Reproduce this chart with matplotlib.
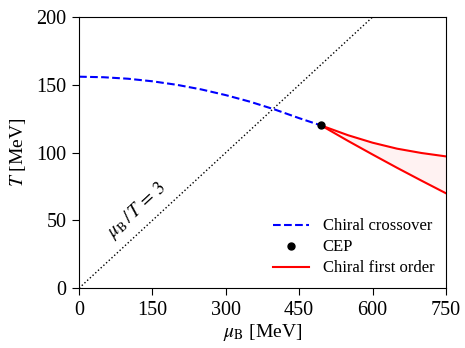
import numpy as np
import matplotlib
matplotlib.use("Agg")
import matplotlib.pyplot as plt

plt.rcParams["font.family"] = ["Liberation Serif", "DejaVu Serif"]
plt.rcParams["mathtext.fontset"] = "stix"

# crossover line
mu_cross = [0, 50, 100, 150, 200, 250, 300, 350, 400, 450, 495]
T_cross = [156, 155.6, 154.5, 152.6, 150, 146.6, 142.4, 137.5, 131.8, 125.4, 120]

# critical end point
mu_cep = 495
T_cep = 120

# first order band
mu_first = [495, 550, 600, 650, 700, 750]
T_first_upper = [120, 112.8, 107.3, 102.9, 99.7, 97.2]
T_first_lower = [120, 108.6, 98.6, 88.8, 79.3, 70]

# mu_B / T = 3
mu_iso = [0, 600]
T_iso = [0, 200]

fig = plt.figure(figsize=(4.65, 3.48), dpi=100)
ax = fig.add_axes([0.170, 0.172, 0.789, 0.779])

ax.plot(mu_iso, T_iso, color="black", ls=":", lw=1.0)
ax.plot(mu_cross, T_cross, color="blue", ls="--", lw=1.5, label="Chiral crossover")
ax.fill_between(mu_first, T_first_lower, T_first_upper, color="red", alpha=0.05, lw=0)
ax.plot(mu_first, T_first_upper, color="red", lw=1.5, label="Chiral first order")
ax.plot(mu_first, T_first_lower, color="red", lw=1.5)
ax.plot(mu_cep, T_cep, "o", color="black", ms=5, label="CEP", zorder=5)

ax.text(118, 57, r"$\mu_{\rm B}\,/\,T\,=\,3$", rotation=42.7, ha="center", va="center", fontsize=13.5)

ax.set_xlim(0, 750)
ax.set_ylim(0, 200)
ax.set_xticks([0, 150, 300, 450, 600, 750])
ax.set_yticks([0, 50, 100, 150, 200])
ax.tick_params(labelsize=14.5, direction="out", length=5, pad=4)
ax.set_xlabel(r"$\mu_{\rm B}$ [MeV]", fontsize=14, labelpad=2)
ax.set_ylabel(r"$T$ [MeV]", fontsize=14, labelpad=6)

handles, labels = ax.get_legend_handles_labels()
order = [0, 2, 1]
ax.legend([handles[i] for i in order], [labels[i] for i in order],
          loc="lower right", frameon=False, fontsize=12, handlelength=2.2,
          borderaxespad=0.3, labelspacing=0.3)

fig.savefig("out.png", dpi=100)
